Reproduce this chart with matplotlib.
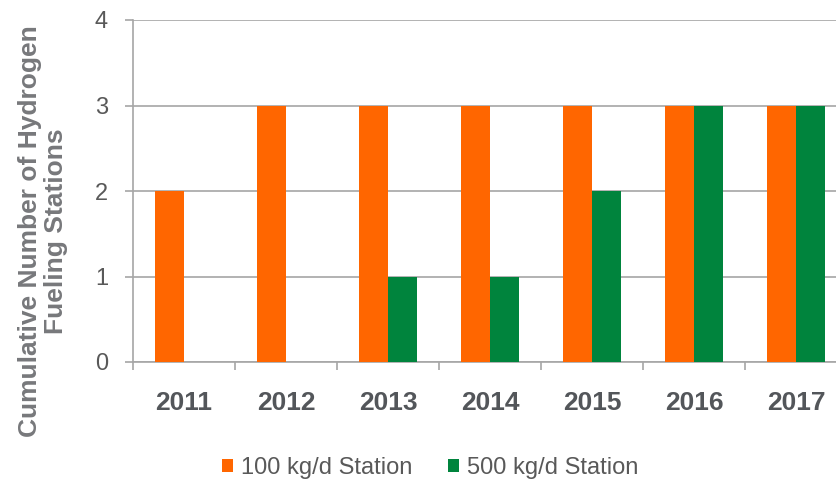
import numpy as np
import matplotlib.pyplot as plt

plt.rcParams['font.family'] = ['Liberation Sans', 'DejaVu Sans']

years = ['2011', '2012', '2013', '2014', '2015', '2016', '2017']
station_100 = [2, 3, 3, 3, 3, 3, 3]
station_500 = [0, 0, 1, 1, 2, 3, 3]
labels = ['100 kg/d Station', '500 kg/d Station']

orange = '#FF6600'
green = '#00843D'
grid_c = '#A6A6A6'

fig = plt.figure(figsize=(8.37, 4.79), dpi=100)
ax = fig.add_axes([133/837, 1-362/479, 714/837, 342/479])

x = np.arange(len(years))
w = 0.285
ax.bar(x - w/2, station_100, w, color=orange, label=labels[0], zorder=3)
ax.bar(x + w/2, station_500, w, color=green, label=labels[1], zorder=3)

ax.set_xlim(-0.5, len(years) - 0.5)
ax.set_ylim(0, 4)
ax.set_yticks([0, 1, 2, 3, 4])
ax.yaxis.grid(True, color=grid_c, linewidth=1.2, zorder=0)
ax.set_xticks(x)
ax.set_xticklabels(years, fontsize=19, fontweight='bold', color='#53565A')
ax.set_xticks(np.arange(len(years) + 1) - 0.5, minor=True)
ax.tick_params(axis='x', which='major', length=0, pad=21)
ax.tick_params(axis='x', which='minor', length=6, width=1.2, color=grid_c, direction='out')
ax.tick_params(axis='y', length=6, width=1.2, color=grid_c, labelsize=17,
               labelcolor='#595959', pad=12)
for s in ['top', 'right']:
    ax.spines[s].set_visible(False)
for s in ['left', 'bottom']:
    ax.spines[s].set_color(grid_c)
    ax.spines[s].set_linewidth(1.2)

fig.text(0.051, 1-231/479, 'Cumulative Number of Hydrogen\nFueling Stations',
         rotation=90, ha='center', va='center', multialignment='center',
         fontsize=19, fontweight='bold', color='#77787B', linespacing=1.1)

fig.legend(loc='center', bbox_to_anchor=(0.514, 1-468/479), ncol=2, frameon=False,
           fontsize=17, labelcolor='#595959', handlelength=0.47, handleheight=0.47,
           handletextpad=0.34, columnspacing=1.5)

fig.savefig('out.png', dpi=100)
